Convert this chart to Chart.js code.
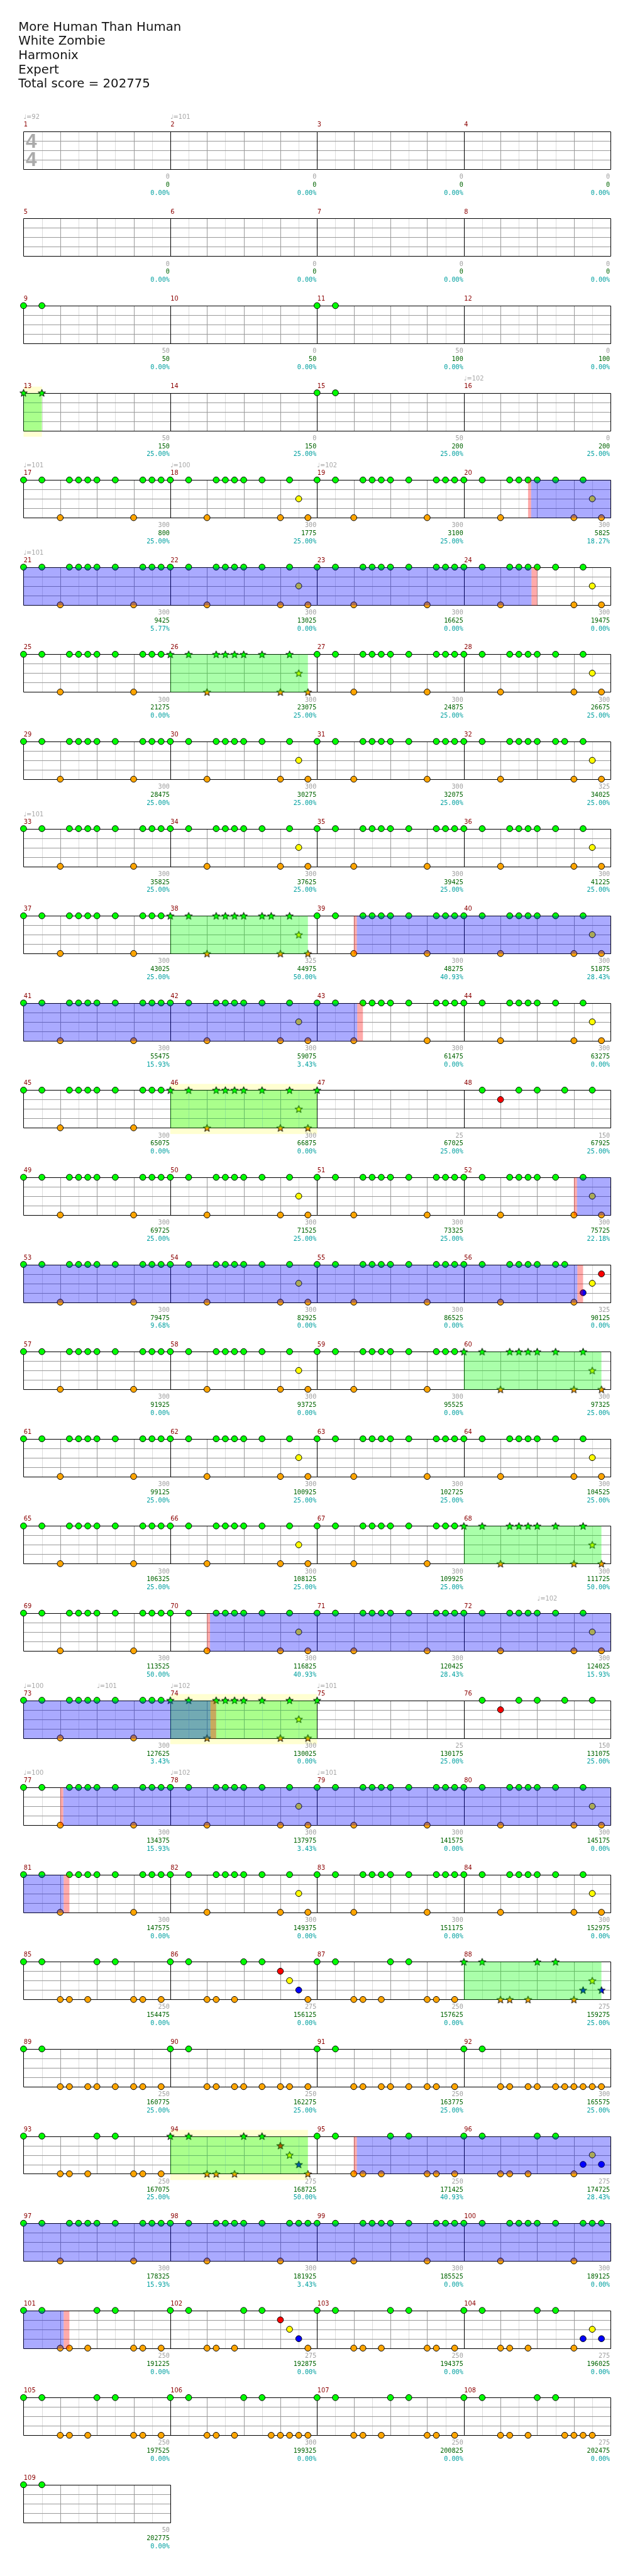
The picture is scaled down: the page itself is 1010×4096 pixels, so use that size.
<!DOCTYPE html>
<html>
<head>
<meta charset="utf-8">
<script src="https://cdn.jsdelivr.net/npm/chart.js@4.4.1/dist/chart.umd.min.js"></script>
<style>
  html, body { margin: 0; padding: 0; background: #fff; }
  canvas { display: block; }
</style>
</head>
<body>
<canvas id="grafico" width="1010" height="4096"></canvas>
<script>
// DATOS DE LA CANCION
const tituloLineas = ["More Human Than Human", "White Zombie", "Harmonix", "Expert", "Total score = 202775"];

// riffs: [semicorchea dentro del compas, traste]  0 verde, 1 rojo, 2 amarillo, 3 azul, 4 naranja
const riffIntro = [[0,0],[2,0]];
const riffA = [[0,0],[2,0],[4,4],[5,0],[6,0],[7,0],[8,0],[10,0],[12,4],[13,0],[14,0],[15,0]];
const riffB = [[0,0],[2,0],[4,4],[5,0],[6,0],[7,0],[8,0],[10,0],[12,4],[13,0],[14,2],[15,4]];
const riffB2 = [[0,0],[2,0],[4,4],[5,0],[6,0],[7,0],[8,0],[10,0],[11,0],[12,4],[13,0],[14,2],[15,4]];
const riffUna = [[0,0]];
const riffRojo = [[2,0],[4,1],[6,0],[8,0],[11,0],[14,0]];
const riff56 = [[0,0],[2,0],[4,4],[5,0],[6,0],[7,0],[8,0],[10,0],[11,0],[12,4],[13,3],[14,2],[15,1]];
const riffC1 = [[0,0],[2,0],[4,4],[5,4],[7,4],[8,0],[10,0],[12,4],[13,4],[15,4]];
const riffC2 = [[0,0],[2,0],[4,4],[5,4],[7,4],[8,0],[10,0],[12,1],[13,2],[14,3],[15,4]];
const riffC4 = [[0,0],[2,0],[4,4],[5,4],[7,4],[8,0],[10,0],[12,4],[13,3],[14,2],[15,3]];
const riffD1 = [[0,0],[2,0],[4,4],[5,4],[7,4],[8,4],[10,4],[12,4],[13,4],[15,4]];
const riffD2 = [[0,0],[2,0],[4,4],[5,4],[7,4],[8,4],[10,4],[11,4],[12,4],[13,4],[14,4],[15,4]];
const riffC6 = [[0,0],[2,0],[4,4],[5,4],[7,4],[8,0],[10,0],[11,4],[12,4],[13,4],[14,4],[15,4]];
const riffC8 = [[0,0],[2,0],[4,4],[5,4],[7,4],[8,0],[10,0],[11,4],[12,4],[13,4],[14,4]];

const riffs = { i: riffIntro, A: riffA, B: riffB, B2: riffB2, u: riffUna, r: riffRojo, m56: riff56,
  C1: riffC1, C2: riffC2, C4: riffC4, D1: riffD1, D2: riffD2, C6: riffC6, C8: riffC8 };

// un codigo por compas (1..109)
const compases = [
  '-','-','-','-','-','-','-','-',
  'i','-','i','-','i','-','i','-',
  'A','B','A','B', 'A','B','A','B',
  'A','B','A','B', 'A','B','A','B2',
  'A','B','A','B', 'A','B2','A','B',
  'A','B','A','B', 'A','B','u','r',
  'A','B','A','B', 'A','B','A','m56',
  'A','B','A','B', 'A','B','A','B',
  'A','B','A','B', 'A','B','A','B',
  'A','B','u','r', 'A','B','A','B',
  'A','B','A','B', 'C1','C2','C1','C4',
  'D1','D1','D1','D2', 'C1','C2','C1','C4',
  'A','A','A','A', 'C1','C2','C1','C4',
  'C1','C6','C1','C8', 'i'
];

const compasesEstrella = [13, 26, 38, 46, 47, 60, 68, 74, 75, 88, 94];

const puntosBase = [
  0,0,0,0,0,0,0,0,
  50,0,50,0,50,0,50,0,
  300,300,300,300, 300,300,300,300,
  300,300,300,300, 300,300,300,325,
  300,300,300,300, 300,325,300,300,
  300,300,300,300, 300,300,25,150,
  300,300,300,300, 300,300,300,325,
  300,300,300,300, 300,300,300,300,
  300,300,300,300, 300,300,300,300,
  300,300,25,150, 300,300,300,300,
  300,300,300,300, 250,275,250,275,
  250,250,250,300, 250,275,250,275,
  300,300,300,300, 250,275,250,275,
  250,300,250,275, 50
];

const puntosTotal = [
  0,0,0,0,0,0,0,0,
  50,50,100,100,150,150,200,200,
  800,1775,3100,5825, 9425,13025,16625,19475,
  21275,23075,24875,26675, 28475,30275,32075,34025,
  35825,37625,39425,41225, 43025,44975,48275,51875,
  55475,59075,61475,63275, 65075,66875,67025,67925,
  69725,71525,73325,75725, 79475,82925,86525,90125,
  91925,93725,95525,97325, 99125,100925,102725,104525,
  106325,108125,109925,111725, 113525,116825,120425,124025,
  127625,130025,130175,131075, 134375,137975,141575,145175,
  147575,149375,151175,152975, 154475,156125,157625,159275,
  160775,162275,163775,165575, 167075,168725,171425,174725,
  178325,181925,185525,189125, 191225,192875,194375,196025,
  197525,199325,200825,202475, 202775
];

const porcentajes = [
  0,0,0,0,0,0,0,0,
  0,0,0,0, 25,25,25,25,
  25,25,25,18.27, 5.77,0,0,0,
  0,25,25,25, 25,25,25,25,
  25,25,25,25, 25,50,40.93,28.43,
  15.93,3.43,0,0, 0,0,25,25,
  25,25,25,22.18, 9.68,0,0,0,
  0,0,0,25, 25,25,25,25,
  25,25,25,50, 50,40.93,28.43,15.93,
  3.43,0,25,25, 15.93,3.43,0,0,
  0,0,0,0, 0,0,0,25,
  25,25,25,25, 25,50,40.93,28.43,
  15.93,3.43,0,0, 0,0,0,0,
  0,0,0,0, 0
];

// [compas, semicorchea, bpm]
const tempos = [[1,0,92],[2,0,101],[16,0,102],[17,0,101],[18,0,100],[19,0,102],[21,0,101],[33,0,101],
  [72,8,102],[73,0,100],[73,8,101],[74,0,102],[75,0,101],[77,0,100],[78,0,102],[79,0,101]];

// [compas inicio, semi inicio, compas fin, semi fin]
const frasesEstrella = [[13,0,13,2],[26,0,26,15],[38,0,38,15],[46,0,47,0],[60,0,60,15],
  [68,0,68,15],[74,0,75,0],[88,0,88,15],[94,0,94,15]];
const frasesAmarillas = [[13,0,13,2],[46,0,47,0],[74,0,75,0],[94,0,94,15]];
const activaciones = [[20,7,24,8],[39,4,43,5],[52,12,56,13],[70,4,74,5],[77,4,81,5],[95,4,101,5]];

// GEOMETRIA (px de la referencia, escalados a la ventana)
const S = 1010 / 1024;
const X0 = 31.3, PASO = 15, Y0 = 205.3, CARRIL = 15.25, ALTO_FILA = 141;
const FILA = ALTO_FILA / CARRIL;
const POR_FILA = 4;
const colores = ['#00ff00', '#ff0000', '#ffff00', '#0000ff', '#ffa500'];

function posicion(compas, semi, traste) {
  const fila = Math.floor((compas - 1) / POR_FILA);
  return { x: ((compas - 1) % POR_FILA) * 16 + semi, y: fila * FILA + traste };
}

// parte un tramo en trozos por fila
function tramos([m1, s1, m2, s2]) {
  const a = (m1 - 1) * 16 + s1, b = (m2 - 1) * 16 + s2;
  const ancho = POR_FILA * 16;
  const res = [];
  for (let f = Math.floor(a / ancho); f * ancho < b; f++) {
    res.push({ fila: f, x1: Math.max(a, f * ancho) - f * ancho, x2: Math.min(b, (f + 1) * ancho) - f * ancho });
  }
  return res;
}

function imagenEstrella(color) {
  const lado = 15;
  const c = document.createElement('canvas');
  c.width = c.height = lado;
  const g = c.getContext('2d');
  const cx = lado / 2, cy = lado / 2 + 0.6, rExt = 6.3 * S, rInt = 2.6 * S;
  g.beginPath();
  for (let i = 0; i < 10; i++) {
    const r = i % 2 ? rInt : rExt;
    const ang = -Math.PI / 2 + i * Math.PI / 5;
    g.lineTo(cx + r * Math.cos(ang), cy + r * Math.sin(ang));
  }
  g.closePath();
  g.fillStyle = color;
  g.fill();
  g.strokeStyle = '#000';
  g.lineWidth = 1;
  g.stroke();
  return c;
}

// notas por traste
const notas = colores.map(() => ({ normal: [], estrella: [] }));
compases.forEach((codigo, i) => {
  const riff = riffs[codigo];
  if (!riff) return;
  const tipo = compasesEstrella.includes(i + 1) ? 'estrella' : 'normal';
  riff.forEach(([semi, traste]) => notas[traste][tipo].push(posicion(i + 1, semi, traste)));
});

const datasets = [];
colores.forEach((color, t) => {
  datasets.push({ data: notas[t].normal, pointStyle: 'circle', pointRadius: 4.9 * S,
    backgroundColor: color, borderColor: '#000', borderWidth: 1, showLine: false });
  datasets.push({ data: notas[t].estrella, pointStyle: imagenEstrella(color), pointRadius: 6,
    backgroundColor: color, borderColor: '#000', borderWidth: 1, showLine: false });
});

const snap = v => Math.round(v) + 0.5;
const numFilas = Math.ceil(compases.length / POR_FILA);

const pentagrama = {
  id: 'pentagrama',
  beforeDatasetsDraw(chart) {
    const { ctx, scales: { x, y } } = chart;
    ctx.save();
    // frases amarillas (detras)
    ctx.fillStyle = 'rgba(255,255,0,0.18)';
    frasesAmarillas.forEach(f => tramos(f).forEach(t => {
      const x1 = x.getPixelForValue(t.x1), x2 = x.getPixelForValue(t.x2);
      const arriba = y.getPixelForValue(t.fila * FILA) - 10 * S;
      const abajo = y.getPixelForValue(t.fila * FILA + 4) + 10 * S;
      ctx.fillRect(x1, arriba, x2 - x1, abajo - arriba);
    }));

    ctx.lineWidth = 1;
    for (let f = 0; f < numFilas; f++) {
      const n = Math.min(POR_FILA, compases.length - f * POR_FILA);
      const arriba = snap(y.getPixelForValue(f * FILA));
      const abajo = snap(y.getPixelForValue(f * FILA + 4));
      const linea = (x1, y1, x2, y2) => { ctx.beginPath(); ctx.moveTo(x1, y1); ctx.lineTo(x2, y2); ctx.stroke(); };
      // corcheas
      ctx.strokeStyle = '#dcdcdc';
      for (let k = 2; k < n * 16; k += 4) {
        const px = snap(x.getPixelForValue(k));
        linea(px, arriba, px, abajo);
      }
      // carriles
      ctx.strokeStyle = '#9a9a9a';
      for (let l = 1; l < 4; l++) {
        const py = snap(y.getPixelForValue(f * FILA + l));
        linea(snap(x.getPixelForValue(0)), py, snap(x.getPixelForValue(n * 16)), py);
      }
      // tiempos
      for (let k = 4; k < n * 16; k += 4) {
        if (k % 16 === 0) continue;
        const px = snap(x.getPixelForValue(k));
        linea(px, arriba, px, abajo);
      }
      // compases y borde
      ctx.strokeStyle = '#000';
      for (let m = 0; m <= n; m++) {
        const px = snap(x.getPixelForValue(m * 16));
        linea(px, arriba, px, abajo);
      }
      linea(snap(x.getPixelForValue(0)), arriba, snap(x.getPixelForValue(n * 16)), arriba);
      linea(snap(x.getPixelForValue(0)), abajo, snap(x.getPixelForValue(n * 16)), abajo);
    }

    // compas 4/4
    ctx.fillStyle = '#aaaaaa';
    ctx.font = `bold ${32 * S}px "Liberation Sans"`;
    ctx.textAlign = 'left';
    const x4 = x.getPixelForValue(0) + 3.6 * S;
    const top0 = y.getPixelForValue(0);
    ctx.fillText('4', x4, top0 + 27 * S);
    ctx.fillText('4', x4, top0 + 56.4 * S);
    ctx.restore();
  },
  afterDatasetsDraw(chart) {
    const { ctx, scales: { x, y } } = chart;
    ctx.save();
    const pintar = (lista, color) => {
      ctx.fillStyle = color;
      lista.forEach(t => {
        const x1 = x.getPixelForValue(t.x1), x2 = x.getPixelForValue(t.x2);
        const arriba = snap(y.getPixelForValue(t.fila * FILA));
        const abajo = snap(y.getPixelForValue(t.fila * FILA + 4));
        ctx.fillRect(x1, arriba, x2 - x1, abajo - arriba);
      });
    };
    // frases de star power
    frasesEstrella.forEach(f => pintar(tramos(f), 'rgba(0,255,0,0.333)'));
    // activaciones
    activaciones.forEach(([m1, s1, m2, s2]) => {
      pintar(tramos([m1, s1 + 0.33, m2, s2 - 0.62]), 'rgba(0,0,255,0.333)');
      pintar(tramos([m1, s1, m1, s1 + 0.33]), 'rgba(255,0,0,0.333)');
      pintar(tramos([m2, s2 - 0.62, m2, s2]), 'rgba(255,0,0,0.333)');
    });

    // titulo
    ctx.fillStyle = '#141414';
    ctx.font = `${20 * S}px "DejaVu Sans"`;
    ctx.textAlign = 'left';
    ctx.textBaseline = 'alphabetic';
    tituloLineas.forEach((txt, i) => ctx.fillText(txt, 29.6 * S, (49.3 + 23 * i) * S));

    // textos por compas
    compases.forEach((c, i) => {
      const m = i + 1;
      const fila = Math.floor(i / POR_FILA);
      const inicio = x.getPixelForValue((i % POR_FILA) * 16);
      const fin = x.getPixelForValue((i % POR_FILA) * 16 + 16);
      const arriba = y.getPixelForValue(fila * FILA);
      const abajo = y.getPixelForValue(fila * FILA + 4);
      ctx.textAlign = 'left';
      ctx.font = `${10 * S}px "DejaVu Sans"`;
      ctx.fillStyle = '#8b0000';
      ctx.fillText(String(m), inicio + 0.4 * S, arriba - 8 * S);
      ctx.textAlign = 'right';
      ctx.font = `${10.3 * S}px "DejaVu Sans Mono"`;
      ctx.fillStyle = '#a0a0a0';
      ctx.fillText(String(puntosBase[i]), fin - 1 * S, abajo + 15.4 * S);
      ctx.fillStyle = '#006400';
      ctx.fillText(String(puntosTotal[i]), fin - 1 * S, abajo + 28.5 * S);
      ctx.fillStyle = '#00a0a0';
      ctx.fillText(porcentajes[i].toFixed(2) + '%', fin - 1 * S, abajo + 41.5 * S);
    });

    // tempos
    ctx.textAlign = 'left';
    ctx.font = `${10 * S}px "DejaVu Sans"`;
    ctx.fillStyle = '#a8a8a8';
    tempos.forEach(([m, semi, bpm]) => {
      const p = posicion(m, semi, 0);
      ctx.fillText('\u2669=' + bpm, x.getPixelForValue(p.x), y.getPixelForValue(p.y) - 20 * S);
    });
    ctx.restore();
  }
};

new Chart(document.getElementById('grafico'), {
  type: 'scatter',
  data: { datasets },
  options: {
    responsive: false,
    animation: false,
    devicePixelRatio: 1,
    events: [],
    layout: { padding: 0 },
    plugins: { legend: { display: false }, tooltip: { enabled: false } },
    scales: {
      x: { type: 'linear', display: false, min: -X0 / PASO, max: (1010 / S - X0) / PASO },
      y: { type: 'linear', display: false, reverse: true, min: -Y0 / CARRIL, max: (4096 / S - Y0) / CARRIL }
    }
  },
  plugins: [pentagrama]
});
</script>
</body>
</html>
